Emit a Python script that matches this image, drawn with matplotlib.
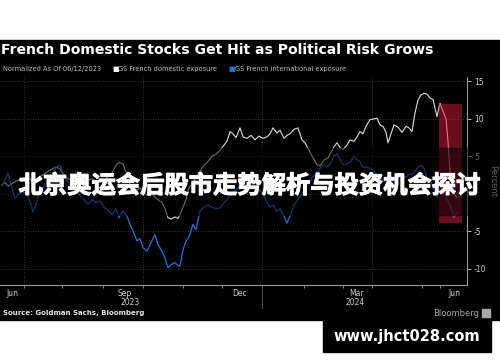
import numpy as np
import matplotlib
matplotlib.use("Agg")
from matplotlib import pyplot as plt
from matplotlib.patches import Rectangle
import matplotlib.patheffects as pe

# trading-session index (chart's own x scale) and normalized % moves
session = [2, 5, 8, 11, 15, 18, 22, 26, 30, 33, 36, 40, 44, 48, 52, 56, 60, 64, 68, 72,
	76, 80, 84, 88, 92, 96, 100, 104, 108, 112, 116, 119, 123, 127, 130, 133, 137, 140, 143, 147,
	150, 153, 155, 158, 162, 165, 168, 171, 175, 178, 180, 183, 186, 189, 193, 196, 200, 204, 208, 212,
	216, 220, 224, 227, 230, 233, 236, 240, 243, 247, 251, 255, 259, 263, 267, 270, 273, 277, 280, 284,
	287, 290, 294, 298, 302, 305, 309, 313, 317, 320, 324, 328, 331, 334, 337, 340, 343, 347, 350, 354,
	357, 360, 363, 366, 370, 374, 377, 380, 383, 386, 388, 391, 394, 398, 402, 406, 409, 412, 415, 418,
	421, 424, 427, 430, 433, 437, 440, 443, 446, 448, 450, 452, 454, 457]
domestic = [1.2, 1.5, 1.0, 1.3, 1.6, 1.8, 2.0, 2.2, 2.0, 1.5, 1.8, 2.3, 2.6, 3.0, 3.3, 3.6, 3.3, 2.5, 2.0, 1.8,
	2.2, 2.0, 1.6, 1.8, 2.0, 1.7, 1.5, 1.8, 2.3, 2.8, 3.8, 4.2, 4.0, 2.5, 1.2, 0.8, 0.5, 0.8, 0.3, -0.2,
	0.2, 0.0, -0.5, -0.8, -1.2, -2.0, -3.2, -3.4, -3.1, -3.3, -2.8, -1.8, -0.8, 0.8, 1.5, 2.2, 3.0, 3.8, 4.3, 5.0,
	5.3, 5.8, 6.5, 7.0, 8.3, 8.0, 7.5, 8.8, 7.6, 7.4, 7.8, 7.2, 7.7, 7.4, 7.6, 8.0, 8.8, 8.1, 8.5, 7.4,
	7.8, 8.0, 8.6, 8.8, 7.2, 6.8, 5.8, 4.8, 3.9, 3.7, 4.5, 4.8, 5.5, 6.3, 6.8, 6.2, 5.9, 6.5, 7.2, 7.0,
	7.6, 8.3, 8.0, 9.0, 9.9, 10.0, 10.1, 9.2, 9.0, 8.2, 6.8, 8.0, 9.2, 8.9, 8.2, 9.0, 8.8, 8.3, 10.8, 12.5,
	13.2, 13.4, 13.3, 12.8, 12.6, 10.3, 12.1, 11.0, 10.0, 7.0, 3.0, 1.0, 0.0, -0.5]
international = [1.0, 1.8, 2.8, 1.2, -0.6, -0.2, 0.3, 0.0, -1.0, -2.4, -1.5, 0.5, 1.0, 1.5, 2.5, 3.6, 3.8, 2.6, 1.5, 0.8,
	0.2, -0.2, -0.8, -1.4, -0.8, -1.2, -1.0, -1.8, -2.2, -2.8, -2.0, -3.2, -2.3, -3.0, -4.1, -5.0, -6.3, -6.0, -7.2, -7.7,
	-6.8, -6.0, -5.5, -6.8, -7.7, -8.6, -9.9, -9.5, -9.2, -9.6, -9.7, -7.5, -6.3, -5.8, -4.1, -4.8, -2.3, -1.8, -1.5, -1.8,
	-2.0, -1.9, -1.2, -0.8, -0.2, 0.2, 0.5, 1.0, 1.3, 1.0, 1.5, 0.8, 0.5, 0.0, -1.2, -1.8, -1.5, -2.4, -2.0, -3.0,
	-3.9, -3.0, -1.5, -0.8, 0.0, 0.5, 1.5, 2.3, 2.8, 3.4, 3.9, 3.6, 4.2, 5.0, 5.4, 4.6, 3.9, 4.0, 4.2, 5.0,
	4.6, 4.3, 3.5, 3.6, 3.4, 3.0, 2.4, 2.0, 1.8, 1.5, 1.2, 1.5, 1.8, 2.2, 2.4, 2.2, 2.6, 2.6, 3.0, 3.5,
	3.8, 3.4, 2.1, 1.8, 0.8, -0.5, 0.5, 0.2, -0.3, -1.0, -1.5, -2.2, -3.2, -2.5]

month_starts = [24, 62, 103, 143, 183, 222, 262, 304, 343, 372, 422, 440]
quarter_starts = [24, 143, 262, 372]
month_labels = ["Jun", "Sep", "Dec", "Mar", "Jun"]
month_label_pos = [12, 125, 240, 357, 454]
year_labels = ["2023", "2024"]
year_label_pos = [130, 355]
y_ticks = [15, 10, 5, 0, -5, -10]
y_ticklabels = ["15", "10", "5", "", "-5", "-10"]  # the 0 sits under the headline
shock = (439, 462, -3.9, 12.0)  # session from/to, pct low/high

title = "French Domestic Stocks Get Hit as Political Risk Grows"
overlay = "北京奥运会后股市走势解析与投资机会探讨"

W, H = 500, 362

def fx(px):
	return px / W

def fy(py):
	return 1 - py / H

fig = plt.figure(figsize=(5, 3.62), dpi=100, facecolor="white")
# black chart card
fig.add_artist(Rectangle((0, fy(320)), 1, fy(40) - fy(320), transform=fig.transFigure, color="black", zorder=-1))

ax = fig.add_axes([0, fy(285), fx(467), fy(77) - fy(285)])
ax.set_facecolor("black")
ax.set_xlim(0, 467)
ax.set_ylim(-12.2, 15.6)

for q in quarter_starts:
	ax.axvline(q, color="#4a4a4a", lw=0.6, ls=(0, (1, 2)), zorder=1)
for t in y_ticks:
	ax.axhline(t, color="#4a4a4a", lw=0.6, ls=(0, (1, 2)), zorder=1)

ax.plot(session, domestic, color="#dcdcdc", lw=0.8, zorder=3)
ax.plot(session, international, color="#2272d8", lw=0.9, zorder=3)

x0, x1, lo, hi = shock
ax.add_patch(Rectangle((x0, lo), x1 - x0, hi - lo, color="#d41a3a", alpha=0.5, lw=0, zorder=4))

for s in ["top", "left"]:
	ax.spines[s].set_visible(False)
ax.spines["bottom"].set_color("#9a9a9a")
ax.spines["right"].set_color("#9a9a9a")
ax.spines["bottom"].set_linewidth(0.8)
ax.spines["right"].set_linewidth(0.8)

ax.yaxis.tick_right()
ax.set_yticks(y_ticks)
ax.set_yticklabels(y_ticklabels)
ax.tick_params(axis="y", colors="#cfcfcf", labelsize=5.5, length=3, width=0.6, pad=2)
ax.yaxis.set_label_position("right")
ax.set_ylabel("Percent", color="#bfbfbf", fontsize=6, rotation=270, labelpad=8)

ax.set_xticks(month_label_pos)
ax.set_xticklabels(month_labels)
ax.set_xticks(month_starts, minor=True)
ax.tick_params(axis="x", which="major", colors="#cfcfcf", labelsize=5.5, length=0, pad=3)
ax.tick_params(axis="x", which="minor", color="#9a9a9a", length=2, width=0.6)
for lab, pos in zip(year_labels, year_label_pos):
	ax.text(pos, -0.085, lab, transform=ax.get_xaxis_transform(), ha="center", va="center",
		color="#cfcfcf", fontsize=5.5)
ax.plot([262, 262], [0, -0.11], transform=ax.get_xaxis_transform(), color="#5a5a5a", lw=0.6, clip_on=False)

# header
fig.text(fx(1), fy(50), title, color="white", fontsize=10.1, fontweight="bold", va="center", ha="left")
sub_y = fy(69)
fig.text(fx(3), sub_y, "Normalized As Of 06/12/2023", color="#bdbdbd", fontsize=4.8, va="center")
fig.text(fx(112), sub_y, "■", color="white", fontsize=5, va="center")
fig.text(fx(118), sub_y, "GS French domestic exposure", color="#bdbdbd", fontsize=4.8, va="center")
fig.text(fx(228), sub_y, "■", color="#2272d8", fontsize=5, va="center")
fig.text(fx(235), sub_y, "GS French international exposure", color="#bdbdbd", fontsize=4.8, va="center")

# footer
fig.text(fx(3), fy(313), "Source: Goldman Sachs, Bloomberg", color="#e8e8e8", fontsize=5, fontweight="bold", va="center")
fig.text(fx(479), fy(313), "Bloomberg", color="#a8a8a8", fontsize=6, va="center", ha="right")
fig.add_artist(Rectangle((fx(482), fy(317)), fx(8), fy(309) - fy(317), transform=fig.transFigure, color="#a8a8a8"))

# overlay band + headline
fig.add_artist(Rectangle((0, fy(215)), 1, fy(148) - fy(215), transform=fig.transFigure, color="black", alpha=0.5, zorder=5))
fig.text(fx(249), fy(186), overlay, color="white", fontsize=17.5, fontweight="bold", ha="center", va="center",
	family=["Noto Sans CJK SC", "DejaVu Sans"], zorder=6,
	path_effects=[pe.withStroke(linewidth=0.8, foreground="white")])

# watermark box
fig.add_artist(Rectangle((fx(323), fy(352)), fx(168), fy(320) - fy(352), transform=fig.transFigure, color="black", zorder=5))
fig.text(fx(407), fy(336), "www.jhct028.com", color="white", fontsize=10.5, fontweight="bold", ha="center", va="center", zorder=6)

fig.savefig("out.png", dpi=100, facecolor="white")
